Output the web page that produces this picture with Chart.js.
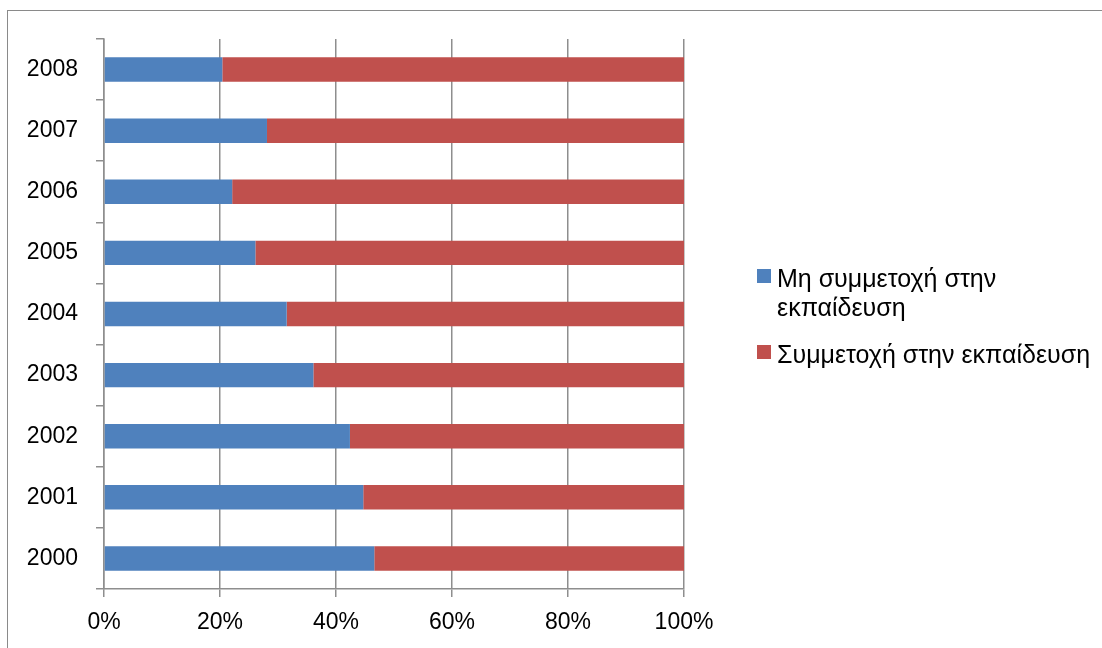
<!DOCTYPE html>
<html>
<head>
<meta charset="utf-8">
<script src="https://cdn.jsdelivr.net/npm/chart.js@4.4.0/dist/chart.umd.min.js"></script>
<style>
    body { margin: 0; background: #fff; }
    #wrap { position: relative; width: 1102px; height: 648px; overflow: hidden; font-family: "Liberation Sans", Arial, sans-serif; }
    #frame { position: absolute; left: 7px; top: 10px; width: 1200px; height: 700px; border: 1px solid #8a8a8a; }
    #chart { position: absolute; left: 0; top: 0; }
    #legend { position: absolute; left: 757px; top: 264px; width: 345px; }
    .item { display: flex; align-items: flex-start; margin-bottom: 18px; }
    .box { width: 14px; height: 14px; margin-top: 5px; margin-right: 6px; flex: none; }
    .txt { font-size: 25px; line-height: 29px; color: #000; width: 322px; }
</style>
</head>
<body>
<div id="wrap">
    <div id="frame"></div>
    <canvas id="chart" width="1102" height="648"></canvas>
    <div id="legend"></div>
</div>
<script>
const years = ['2000', '2001', '2002', '2003', '2004', '2005', '2006', '2007', '2008'];
const notTraining = [46.6, 44.7, 42.4, 36.1, 31.5, 26.1, 22.1, 28.1, 20.4];
const training = [53.4, 55.3, 57.6, 63.9, 68.5, 73.9, 77.9, 71.9, 79.6];
const seriesNames = ['Μη συμμετοχή στην εκπαίδευση', 'Συμμετοχή στην εκπαίδευση'];
const seriesColors = ['#4F81BD', '#C0504D'];

const font = { family: '"Liberation Sans", Arial, sans-serif', size: 23 };
const lineGrey = '#8e8e8e';

const chart = new Chart(document.getElementById('chart'), {
    type: 'bar',
    data: {
        labels: years,
        datasets: [
            { label: seriesNames[0], data: notTraining, backgroundColor: seriesColors[0] },
            { label: seriesNames[1], data: training, backgroundColor: seriesColors[1] }
        ]
    },
    options: {
        indexAxis: 'y',
        responsive: false,
        animation: false,
        categoryPercentage: 1,
        barPercentage: 0.4,
        layout: { padding: { top: 39, right: 418, bottom: 0, left: 0 } },
        plugins: { legend: { display: false }, tooltip: { enabled: false } },
        scales: {
            x: {
                stacked: true,
                min: 0,
                max: 100,
                ticks: { stepSize: 20, callback: v => v + '%', color: '#000', font: font, padding: 12 },
                grid: { color: lineGrey, lineWidth: 1.5, tickLength: 8 },
                border: { color: lineGrey, width: 1.5 },
                afterFit: s => { s.height = 59; }
            },
            y: {
                stacked: true,
                reverse: true,
                ticks: { color: '#000', font: font, padding: 18 },
                grid: { drawOnChartArea: false, color: lineGrey, lineWidth: 1.5, tickLength: 8 },
                border: { color: lineGrey, width: 1.5 },
                afterFit: s => { s.width = 104; }
            }
        }
    }
});

// legend built from the datasets (Chart.js legend can't wrap text)
const legendEl = document.getElementById('legend');
chart.data.datasets.forEach(ds => {
    const item = document.createElement('div');
    item.className = 'item';
    item.innerHTML = '<span class="box" style="background:' + ds.backgroundColor + '"></span><span class="txt"></span>';
    item.querySelector('.txt').textContent = ds.label;
    legendEl.appendChild(item);
});
</script>
</body>
</html>
